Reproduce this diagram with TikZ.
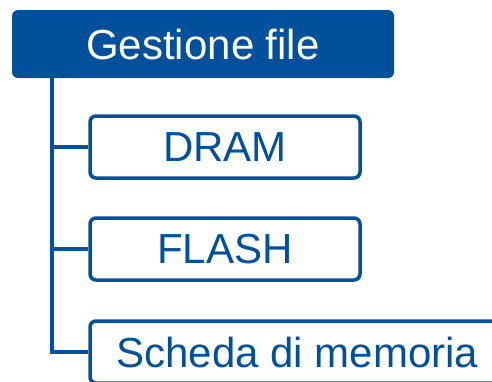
\documentclass[tikz,border=0pt]{standalone}
\usepackage{fontspec}
\setmainfont{Liberation Sans}
\definecolor{mblue}{RGB}{0,80,155}
\begin{document}
\begin{tikzpicture}[x=1pt,y=-1pt,
  topbox/.style={fill=mblue, rounded corners=6pt, minimum width=382pt, minimum height=68pt, inner sep=0pt, text=white, font=\fontsize{42}{48}\selectfont},
  childbox/.style={draw=mblue, fill=white, line width=3.5pt, rounded corners=6pt, minimum height=62pt, inner sep=0pt, text=mblue, font=\fontsize{42}{48}\selectfont},
  conn/.style={draw=mblue, line width=3.5pt}]
\useasboundingbox (0,0) rectangle (492,381);
\node[topbox] (top) at (203,44) {Gestione file};
\coordinate (trunk) at (52,78);
\node[childbox, minimum width=270pt] (dram) at (225,147) {DRAM};
\node[childbox, minimum width=270pt] (flash) at (225,249) {FLASH};
\node[childbox, minimum width=415pt] (scheda) at (297.5,352) {Scheda di memoria};
\draw[conn] (trunk) |- (scheda.west);
\draw[conn] (trunk |- dram.west) -- (dram.west);
\draw[conn] (trunk |- flash.west) -- (flash.west);
\end{tikzpicture}
\end{document}
